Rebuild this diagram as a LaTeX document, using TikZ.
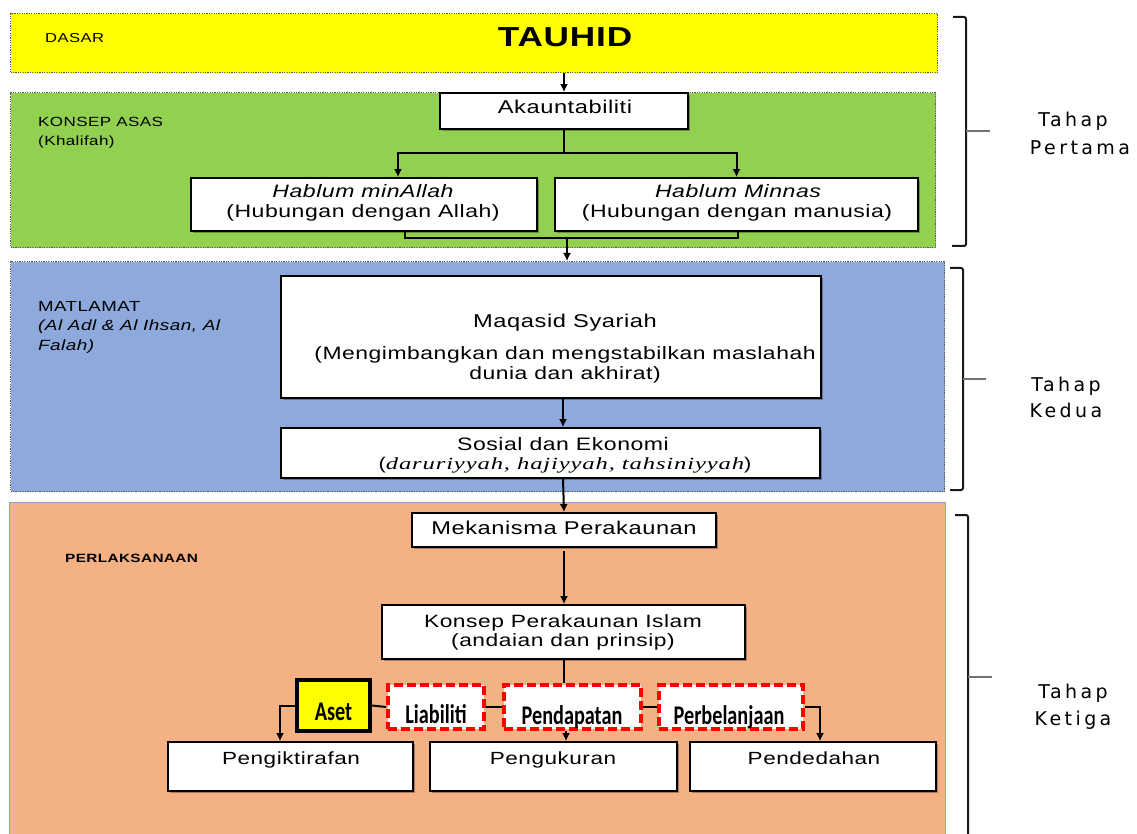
\documentclass[tikz,border=0pt]{standalone}
\usepackage{fontspec}
\setmainfont{Liberation Sans}[FakeStretch=1.28, LetterSpace=3]
\newfontfamily\tahapfont{DejaVu Sans}[LetterSpace=18]
\newfontfamily\calfont{Carlito}[FakeStretch=0.75]
\newfontfamily\serifit{Liberation Serif}[FakeStretch=1.45, LetterSpace=5]
\usetikzlibrary{arrows.meta,shadows}

\definecolor{bandyellow}{HTML}{FFFF00}
\definecolor{bandgreen}{HTML}{92D050}
\definecolor{bandblue}{HTML}{8EA9DB}
\definecolor{bandorange}{HTML}{F4B183}
\definecolor{edgeblue}{HTML}{8EA2C0}

\newcommand{\fsz}[1]{\fontsize{#1}{#1}\selectfont}

\begin{document}
\begin{tikzpicture}[x=1pt,y=-1pt,
  band/.style={anchor=north west, inner sep=0, line width=1.3pt, draw=black!65,
    dash pattern=on 1.2pt off 1.2pt},
  box/.style={draw=black, line width=1.8pt, fill=white, inner sep=0,
    drop shadow={shadow xshift=1.6pt, shadow yshift=-1.6pt, fill=black, opacity=0.3}},
  catbox/.style={draw=red, line width=3.6pt, fill=white, dash pattern=on 9pt off 4pt, inner sep=0},
  asetbox/.style={draw=black, line width=4.4pt, fill=bandyellow, inner sep=0},
  txt/.style={inner sep=0, anchor=base},
  ltxt/.style={inner sep=0, anchor=base west},
  arr/.style={line width=2pt, -{Latex[length=8pt,width=8pt]}},
  link/.style={line width=2pt, black},
  brace/.style={line width=2pt, black!90, rounded corners=2pt},
  tick/.style={line width=2pt, black!55},
]
\useasboundingbox (0,0) rectangle (1137,834);

% ---- the four bands ----
\node[band, fill=bandyellow, minimum width=927, minimum height=59] (dasar) at (10,13) {};
\node[band, fill=bandgreen, minimum width=925, minimum height=155] (asas) at (10,92) {};
\node[band, fill=bandblue, minimum width=934, minimum height=230] (matlamat) at (10,261) {};
\node[anchor=north west, inner sep=0, fill=bandorange, draw=edgeblue, line width=1.2pt,
      minimum width=936, minimum height=350] (pelaks) at (9,502) {};

% ---- band captions ----
\node[ltxt] (tDasar) at (45,43) {\fsz{13}DASAR};
\node[txt] (tTauhid) at (565,47) {\fsz{27.5}\bfseries TAUHID};
\node[ltxt] (tAsas) at (38,127) {\fsz{13.3}KONSEP ASAS};
\node[ltxt] (tKhal) at (38,146) {\fsz{13.3}(Khalifah)};
\node[ltxt] (tMat) at (38,311) {\fsz{14.6}MATLAMAT};
\node[ltxt] (tMat2) at (38,330.5) {\fsz{14.8}\itshape (Al Adl \& Al Ihsan, Al};
\node[ltxt] (tMat3) at (38,350.5) {\fsz{14.8}\itshape Falah)};
\node[ltxt] (tPel) at (65,562) {\fsz{12}\bfseries PERLAKSANAAN};

% ---- boxes of the first stage ----
\node[box, minimum width=248, minimum height=36] (akaun) at (564,111) {};
\node[txt] (tAkaun) at (565,114) {\fsz{18.5}Akauntabiliti};
\node[box, minimum width=346, minimum height=53] (hma) at (364,204.5) {};
\node[txt] (tHma1) at (363,197.5) {\fsz{18}\itshape Hablum minAllah};
\node[txt] (tHma2) at (363,218) {\fsz{18}(Hubungan dengan Allah)};
\node[box, minimum width=363, minimum height=53] (hmn) at (736.5,204.5) {};
\node[txt] (tHmn1) at (738,197.5) {\fsz{18}\itshape Hablum Minnas};
\node[txt] (tHmn2) at (737,218) {\fsz{18}(Hubungan dengan manusia)};

% ---- boxes of the second stage ----
\node[box, minimum width=540, minimum height=122] (maqasid) at (551,337) {};
\node[txt] (tMaq1) at (565,327) {\fsz{18.5}Maqasid Syariah};
\node[txt] (tMaq2) at (565,359) {\fsz{17.9}(Mengimbangkan dan mengstabilkan maslahah};
\node[txt] (tMaq3) at (565,379) {\fsz{17.9}dunia dan akhirat)};
\node[box, minimum width=539, minimum height=50] (sosial) at (550.5,453) {};
\node[txt] (tSos1) at (563,450.5) {\fsz{18}Sosial dan Ekonomi};
\node[txt] (tSos2) at (565,469.5) {\fsz{17}(\serifit\itshape daruriyyah, hajiyyah, tahsiniyyah\normalfont)};

% ---- boxes of the third stage ----
\node[box, minimum width=304, minimum height=34] (mek) at (564,530) {};
\node[txt] (tMek) at (564,534.5) {\fsz{18.5}Mekanisma Perakaunan};
\node[box, minimum width=363, minimum height=54] (konsep) at (563.5,632) {};
\node[txt] (tKon1) at (563,627.5) {\fsz{17.8}Konsep Perakaunan Islam};
\node[txt] (tKon2) at (563,646.5) {\fsz{17.8}(andaian dan prinsip)};

\node[asetbox, minimum width=73, minimum height=51] (aset) at (333.5,705.5) {};
\node[txt] (tAset) at (333.5,720) {\fsz{27}\calfont\bfseries Aset};
\node[catbox, minimum width=96, minimum height=44] (liab) at (436,707) {};
\node[txt] (tLiab) at (436,723) {\fsz{27}\calfont\bfseries Liabiliti};
\node[catbox, minimum width=137, minimum height=44] (pend) at (572.5,707) {};
\node[txt] (tPend) at (572,724) {\fsz{27}\calfont\bfseries Pendapatan};
\node[catbox, minimum width=144, minimum height=44] (perb) at (731,707) {};
\node[txt] (tPerb) at (729,724) {\fsz{27}\calfont\bfseries Perbelanjaan};

\node[box, minimum width=245, minimum height=49] (pengik) at (290.5,766.5) {};
\node[txt] (tPengik) at (291,764.5) {\fsz{17.6}Pengiktirafan};
\node[box, minimum width=247, minimum height=49] (pengk) at (553.5,766.5) {};
\node[txt] (tPengk) at (553,764.5) {\fsz{17.6}Pengukuran};
\node[box, minimum width=246, minimum height=49] (pended) at (813,766.5) {};
\node[txt] (tPended) at (814,764.5) {\fsz{17.6}Pendedahan};

% ---- connectors ----
\draw[arr] (akaun.north |- dasar.south) -- (akaun.north);
\coordinate (split) at (564,153);
\draw[link] (akaun.south) -- (split);
\draw[arr] (split) -| ([xshift=34]hma.north);
\draw[arr] (split) -| (hmn.north);
\coordinate (join) at (567,238);
\draw[link] ([xshift=41]hma.south) |- (join) -| ([xshift=1.5]hmn.south);
\draw[arr] (join) -- (join |- matlamat.north);
\draw[arr] ([xshift=12]maqasid.south) -- ([xshift=12]maqasid.south |- sosial.north);
\draw[arr] ([xshift=12.5]sosial.south) -- (mek.north);
\draw[arr] ([yshift=-3]mek.south) -- (mek.south |- konsep.north);
\draw[link] (konsep.south) -- (konsep.south |- pend.north);
\draw[link] (aset.east) -- (liab.west);
\draw[link] (liab.east) -- (pend.west);
\draw[link] (pend.east) -- (perb.west);
\draw[arr] (aset.west) -| ([xshift=-10.5]pengik.north);
\draw[arr] ([xshift=-6.5]pend.south) -- ([xshift=-6.5]pend.south |- pengk.north);
\draw[arr] (perb.east) -| ([xshift=7]pended.north);

% ---- stage brackets and their labels ----
\draw[brace] (953,17) -- (966,17) -- (966,246) -- (952,246);
\draw[tick] (966,131) -- (990,131);
\draw[brace] (950,268) -- (963,268) -- (963,490) -- (950,490);
\draw[tick] (963,379) -- (986,379);
\draw[brace] (955,515) -- (968,515) -- (968,850);
\draw[tick] (968,677) -- (992,677);

\node[txt] (t1a) at (1073,127) {\fsz{19}\tahapfont Tahap};
\node[txt] (t1b) at (1080,155) {\fsz{19}\tahapfont Pertama};
\node[txt] (t2a) at (1066,391) {\fsz{19}\tahapfont Tahap};
\node[txt] (t2b) at (1066,417) {\fsz{19}\tahapfont Kedua};
\node[txt] (t3a) at (1073,698) {\fsz{19}\tahapfont Tahap};
\node[txt] (t3b) at (1073,725) {\fsz{19}\tahapfont Ketiga};
\end{tikzpicture}
\end{document}
